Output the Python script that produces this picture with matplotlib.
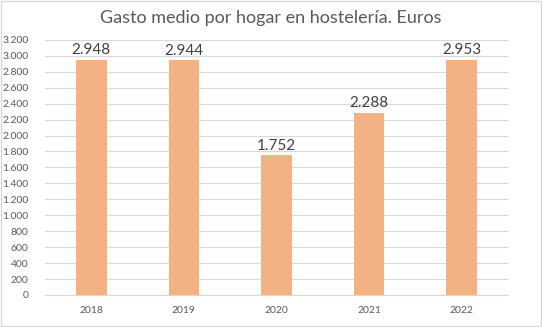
import matplotlib
matplotlib.use("Agg")
import matplotlib.pyplot as plt
from matplotlib.patches import Rectangle

plt.rcParams['font.family'] = ['Lato', 'DejaVu Sans']

# datos
years = ['2018', '2019', '2020', '2021', '2022']
gasto = [2948, 2944, 1752, 2288, 2953]
yticks = list(range(0, 3201, 200))


def fmt_es(v):
    # separador de miles con punto
    return f'{v:,}'.replace(',', '.')


fig = plt.figure(figsize=(5.42, 3.27), dpi=100)
ax = fig.add_axes([0.083, 0.098, 0.854, 0.78])

x = range(len(years))
bars = ax.bar(x, gasto, width=0.33, color='#F4B183', zorder=3)

for b, v in zip(bars, gasto):
    ax.annotate(fmt_es(v), (b.get_x() + b.get_width() / 2, v),
                xytext=(0, 2), textcoords='offset points',
                ha='center', va='bottom', fontsize=11, color='#404040')

ax.set_ylim(0, 3200)
ax.set_xlim(-0.5, len(years) - 0.5)
ax.set_yticks(yticks)
ax.set_yticklabels([fmt_es(t) for t in yticks])
ax.set_xticks(list(x))
ax.set_xticklabels(years)
ax.tick_params(axis='both', length=0, labelsize=7.5, colors='#595959')
ax.tick_params(axis='x', pad=8)
ax.tick_params(axis='y', pad=12)
ax.grid(axis='y', color='#D9D9D9', linewidth=0.8, zorder=0)
for s in ['top', 'right', 'left']:
    ax.spines[s].set_visible(False)
ax.spines['bottom'].set_color('#D9D9D9')

fig.text(0.5, 0.945, 'Gasto medio por hogar en hostelería. Euros',
         ha='center', va='center', fontsize=13, color='#595959')

# marco exterior
fig.patches.append(Rectangle((0.002, 0.003), 0.996, 0.994, transform=fig.transFigure,
                             fill=False, edgecolor='#D9D9D9', linewidth=1))

fig.savefig('out.png', dpi=100)
